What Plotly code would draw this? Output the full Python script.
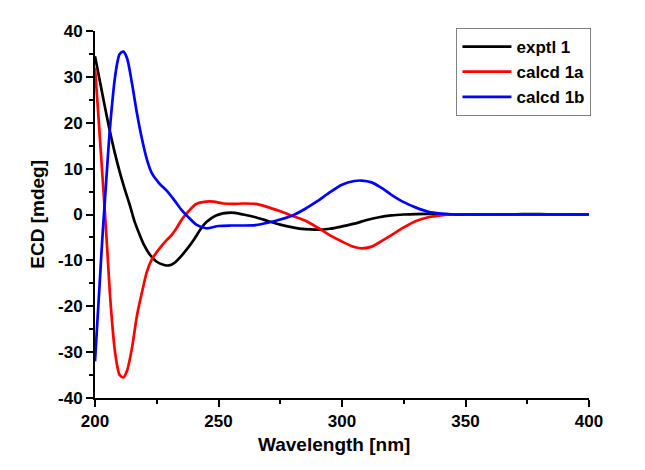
import plotly.graph_objects as go

# exptl 1
wl_exp = [200, 202, 204, 206, 208, 210, 212, 214, 216, 218, 220, 222, 225, 228, 230,
          232, 235, 238, 240, 243, 245, 249, 255, 260, 265, 270, 275, 280, 285, 290,
          295, 300, 305, 310, 315, 320, 325, 330, 340, 350, 360, 370, 380, 390, 400]
ecd_exp = [34.5, 29, 23.5, 18.2, 13.5, 9.3, 5.6, 2.2, -1.5, -4.3, -6.8, -8.6, -10.3, -11, -11.1,
           -10.6, -9, -7, -5.5, -3, -1.7, -0.2, 0.4, 0, -0.6, -1.4, -2.2, -2.8, -3.2, -3.3,
           -3.1, -2.6, -2, -1.2, -0.6, -0.2, 0, 0.1, 0.1, 0, 0, 0.05, 0.1, 0, 0]

# calcd 1a
wl_1a = [200, 201, 202, 203, 204, 205, 206, 207, 208, 209, 210, 211.5, 213, 215, 217,
         219, 221, 223, 226, 229, 231, 233, 235, 238, 241, 245, 248, 252, 256, 260,
         265, 270, 275, 280, 285, 290, 295, 300, 305, 308, 312, 316, 320, 325, 330,
         335, 340, 345, 350, 360, 380, 400]
ecd_1a = [32, 24.5, 16.5, 8.5, 0.5, -8, -17, -24, -29.5, -33, -35, -35.5, -34, -29, -22,
          -17, -12.5, -9.8, -7.5, -5.6, -4.5, -3, -1.2, 0.8, 2.3, 2.8, 2.8, 2.4, 2.3, 2.4,
          2.3, 1.6, 0.7, -0.3, -1.3, -2.8, -4.5, -5.9, -7.1, -7.4, -7, -5.8, -4.5, -2.8, -1.4,
          -0.6, -0.2, 0, 0, 0, 0, 0]

# calcd 1b
wl_1b = [200, 201, 202, 203, 204, 205, 206, 207, 208, 209, 210, 211.5, 213, 215, 217,
         219, 221, 223, 226, 229, 232, 235, 238, 241, 245, 250, 255, 260, 265, 270,
         275, 280, 285, 290, 295, 300, 305, 308, 312, 316, 320, 325, 330, 335, 340,
         345, 350, 360, 380, 400]
ecd_1b = [-32, -23, -14, -5, 3, 11, 18.5, 24.5, 29.5, 33, 35, 35.5, 34, 28.5, 22,
          16.5, 12, 9, 6.8, 5.2, 3.2, 1, -0.7, -2.2, -3, -2.5, -2.4, -2.4, -2.3, -1.8,
          -1.1, -0.2, 1.2, 2.9, 4.8, 6.5, 7.3, 7.4, 7, 5.8, 4.3, 2.7, 1.5, 0.6, 0.2,
          0, 0, 0, 0, 0]

x_ticks = [200, 250, 300, 350, 400]
y_ticks = [-40, -30, -20, -10, 0, 10, 20, 30, 40]
y_labels = ["-40", "-30", "-20", "-10", "0", "10", "20", "30", "40"]

family = "Liberation Sans, Arial, sans-serif"
tick_font = dict(family=family, size=17, color="black", weight="bold")
title_font = dict(family=family, size=19, color="black", weight="bold")
legend_font = dict(family=family, size=17, color="black", weight="bold")

fig = go.Figure()
for name, x, y, color in [("exptl 1", wl_exp, ecd_exp, "black"),
                          ("calcd 1a", wl_1a, ecd_1a, "#ff0000"),
                          ("calcd 1b", wl_1b, ecd_1b, "#0000ff")]:
    fig.add_trace(go.Scatter(x=x, y=y, name=name, mode="lines",
                             line=dict(color=color, width=2.7, shape="spline", smoothing=0.8)))

axis = dict(showline=True, linewidth=2, linecolor="black", mirror=False,
            showgrid=False, zeroline=False, ticks="outside", ticklen=7,
            tickwidth=2, tickcolor="black", tickfont=tick_font, automargin=False)

fig.update_xaxes(axis, range=[200, 400], tickmode="array", tickvals=x_ticks,
                 minor=dict(dtick=25, ticks="outside", ticklen=4, tickwidth=2, tickcolor="black"))
fig.update_yaxes(axis, range=[-40, 40], tickmode="array", tickvals=y_ticks, ticktext=y_labels,
                 minor=dict(dtick=5, ticks="outside", ticklen=4, tickwidth=2, tickcolor="black"))

fig.add_annotation(text="Wavelength [nm]", xref="paper", yref="paper", x=0.484, y=-0.128,
                   xanchor="center", yanchor="middle", showarrow=False, font=title_font)
fig.add_annotation(text="ECD [mdeg]", xref="paper", yref="paper", x=-0.117, y=0.5,
                   xanchor="center", yanchor="middle", showarrow=False, textangle=-90,
                   font=title_font)

fig.update_layout(
    width=645, height=470,
    margin=dict(l=87, r=64, t=23, b=80),
    plot_bgcolor="white", paper_bgcolor="white",
    legend=dict(x=1.005, y=1.008, xanchor="right", yanchor="top",
                bordercolor="#808080", borderwidth=1, bgcolor="white",
                font=legend_font, tracegroupgap=0, itemwidth=49),
)

fig.write_html("out.html")
